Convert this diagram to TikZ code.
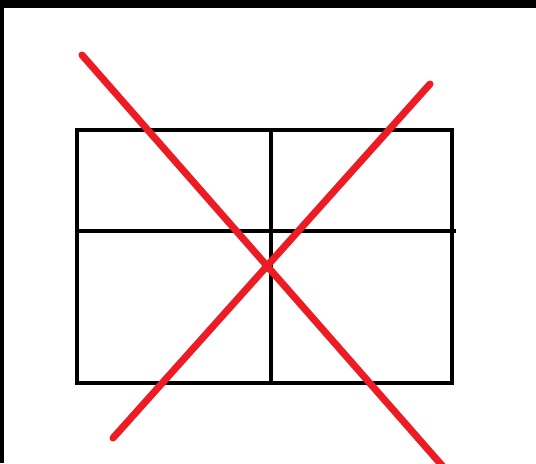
\documentclass[tikz,border=0pt]{standalone}
\usepackage{xcolor}
\usepackage{tikz}
\usetikzlibrary{calc}
\definecolor{crossred}{HTML}{ED1C24}

\begin{document}
\begin{tikzpicture}[x=0.02cm, y=-0.02cm]
      \useasboundingbox (0,0) rectangle (536,463);
      \fill[white] (0,0) rectangle (536,463);

      % dark frame strips
      \fill[black] (0,0) rectangle (536,8);
      \fill[black] (0,0) rectangle (4,463);

      % Grid box
      \draw[black, line width=2.3pt] (77,130) rectangle (452,383);
      \draw[black, line width=2.3pt] (77,231) -- (456,231);
      \draw[black, line width=2.3pt] (271,130) -- (271,383);

      % Red cross over the box
      \draw[crossred, line width=4pt, line cap=round] (82,55) -- (446,470);
      \draw[crossred, line width=4pt, line cap=round] (113,438) -- (430,84);

    \end{tikzpicture}
\end{document}
